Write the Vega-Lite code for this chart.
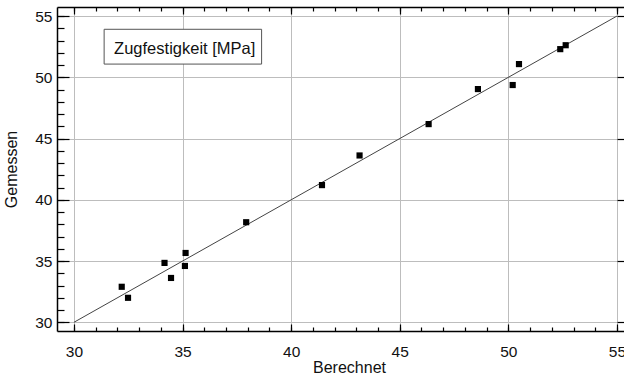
{
  "$schema": "https://vega.github.io/schema/vega-lite/v6.json",
  "width": 567,
  "height": 324,
  "autosize": {"type": "none"},
  "padding": {"left": 57, "top": 7, "right": 0, "bottom": 46},
  "background": "white",
  "config": {
    "view": {"stroke": null},
    "font": "Liberation Sans",
    "axis": {
      "labelFont": "Liberation Sans",
      "titleFont": "Liberation Sans",
      "labelColor": "#111111",
      "titleColor": "#111111",
      "titleFontWeight": "normal",
      "domainColor": "black",
      "tickColor": "black",
      "gridColor": "#bdbdbd",
      "gridWidth": 1
    }
  },
  "datasets": {
    "fit": [{"berechnet": 30, "gemessen": 30}, {"berechnet": 55, "gemessen": 55}],
    "points": [
      {"berechnet": 32.2, "gemessen": 32.9},
      {"berechnet": 32.49, "gemessen": 32.0},
      {"berechnet": 34.17, "gemessen": 34.85},
      {"berechnet": 34.47, "gemessen": 33.62},
      {"berechnet": 35.11, "gemessen": 34.6},
      {"berechnet": 35.14, "gemessen": 35.66},
      {"berechnet": 37.93, "gemessen": 38.17},
      {"berechnet": 41.42, "gemessen": 41.2},
      {"berechnet": 43.15, "gemessen": 43.62},
      {"berechnet": 46.33, "gemessen": 46.18},
      {"berechnet": 48.6, "gemessen": 49.04},
      {"berechnet": 50.2, "gemessen": 49.37},
      {"berechnet": 50.49, "gemessen": 51.08},
      {"berechnet": 52.39, "gemessen": 52.3},
      {"berechnet": 52.64, "gemessen": 52.62}
    ],
    "box": [{"x1": 31.39, "x2": 38.64, "y1": 51.08, "y2": 53.92}],
    "label": [{"x": 35.1, "y": 51.9, "text": "Zugfestigkeit [MPa]"}]
  },
  "resolve": {"axis": {"x": "independent", "y": "independent"}},
  "layer": [
    {
      "data": {"name": "fit"},
      "mark": {"type": "line", "color": "#444444", "strokeWidth": 1},
      "encoding": {
        "x": {
          "field": "berechnet", "type": "quantitative",
          "scale": {"domain": [29.22, 55.325], "nice": false, "zero": false},
          "axis": {
            "orient": "bottom",
            "values": [30, 35, 40, 45, 50, 55],
            "grid": true,
            "tickSize": -7,
            "tickWidth": 1.2,
            "domainWidth": 1.5,
            "labelFontSize": 15.5,
            "labelPadding": 20,
            "title": "Berechnet",
            "titleFontSize": 16,
            "titleX": 292,
            "titleY": 41,
            "titleBaseline": "alphabetic",
            "titleAnchor": "middle"
          }
        },
        "y": {
          "field": "gemessen", "type": "quantitative",
          "scale": {"domain": [29.29, 55.74], "nice": false, "zero": false},
          "axis": {
            "orient": "left",
            "values": [30, 35, 40, 45, 50, 55],
            "grid": true,
            "tickSize": -12,
            "tickWidth": 1.2,
            "domainWidth": 1.5,
            "labelFontSize": 15.5,
            "labelPadding": 17,
            "title": "Gemessen",
            "titleFontSize": 16,
            "titleX": -46,
            "titleY": 162,
            "titleAngle": -90,
            "titleBaseline": "middle",
            "titleAnchor": "middle"
          }
        }
      }
    },
    {
      "data": {"name": "points"},
      "mark": {"type": "square", "size": 38, "color": "black", "opacity": 1},
      "encoding": {
        "x": {
          "field": "berechnet", "type": "quantitative",
          "axis": {
            "orient": "bottom",
            "values": [30,31,32,33,34,35,36,37,38,39,40,41,42,43,44,45,46,47,48,49,50,51,52,53,54,55],
            "grid": false, "labels": false, "domain": false, "title": null,
            "tickSize": -4, "tickWidth": 1.2
          }
        },
        "y": {
          "field": "gemessen", "type": "quantitative",
          "axis": {
            "orient": "left",
            "values": [30,31,32,33,34,35,36,37,38,39,40,41,42,43,44,45,46,47,48,49,50,51,52,53,54,55],
            "grid": false, "labels": false, "domain": false, "title": null,
            "tickSize": -7, "tickWidth": 1.2
          }
        }
      }
    },
    {
      "data": {"name": "box"},
      "mark": {"type": "rect", "fill": "white", "stroke": "#555555", "strokeWidth": 1},
      "encoding": {
        "x": {
          "field": "x1", "type": "quantitative",
          "axis": {
            "orient": "top",
            "values": [30, 35, 40, 45, 50, 55],
            "grid": false, "labels": false, "title": null,
            "domainWidth": 1.5,
            "tickSize": -7, "tickWidth": 1.2
          }
        },
        "x2": {"field": "x2"},
        "y": {
          "field": "y1", "type": "quantitative",
          "axis": {
            "orient": "right",
            "values": [30, 35, 40, 45, 50, 55],
            "grid": false, "labels": false, "title": null, "domain": false,
            "tickSize": -7, "tickWidth": 1.2
          }
        },
        "y2": {"field": "y2"}
      }
    },
    {
      "data": {"name": "label"},
      "mark": {"type": "text", "font": "Liberation Sans", "fontSize": 16.5, "align": "center", "baseline": "alphabetic", "color": "#111111"},
      "encoding": {
        "x": {
          "field": "x", "type": "quantitative",
          "axis": {
            "orient": "top",
            "values": [30,31,32,33,34,35,36,37,38,39,40,41,42,43,44,45,46,47,48,49,50,51,52,53,54,55],
            "grid": false, "labels": false, "domain": false, "title": null,
            "tickSize": -4, "tickWidth": 1.2
          }
        },
        "y": {"field": "y", "type": "quantitative", "axis": null},
        "text": {"field": "text"}
      }
    }
  ]
}
